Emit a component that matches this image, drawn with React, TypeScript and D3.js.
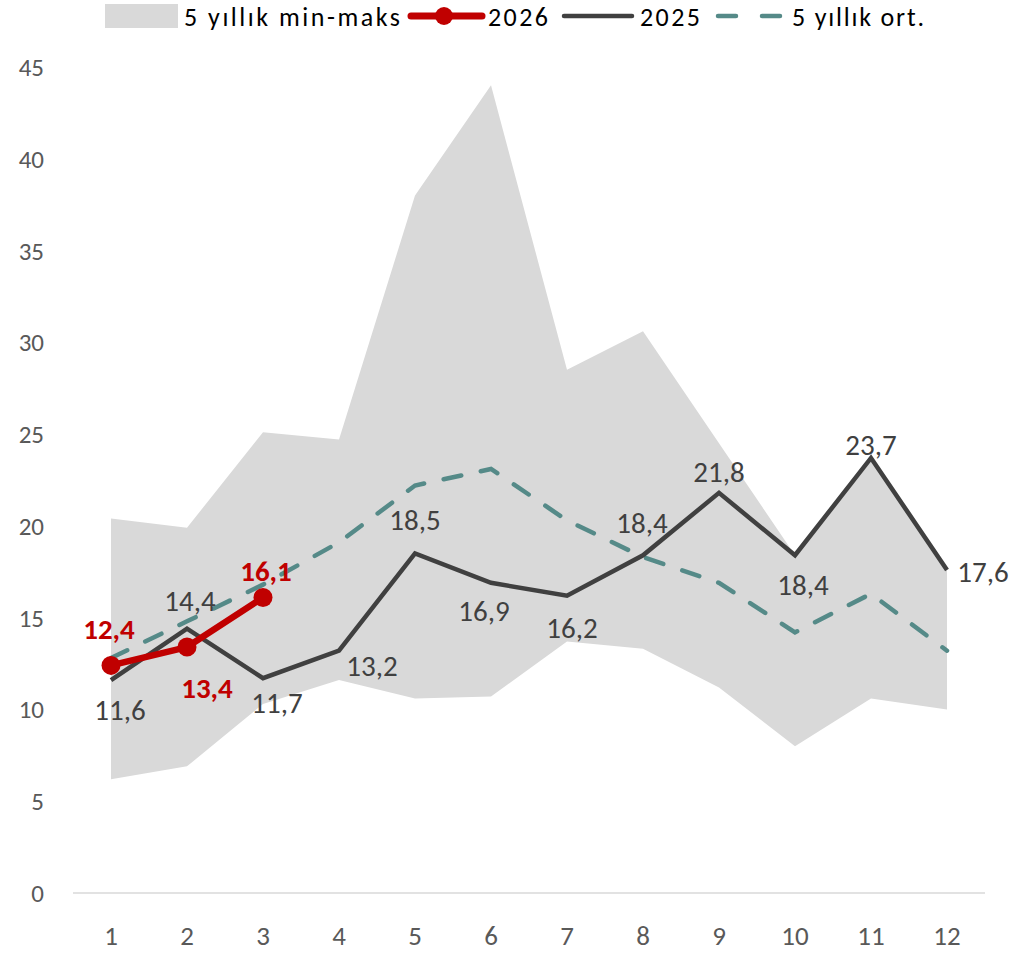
import React from "react";
import * as d3 from "d3";

const months = ["1", "2", "3", "4", "5", "6", "7", "8", "9", "10", "11", "12"];
const rangeMin = [6.2, 6.9, 10.3, 11.6, 10.6, 10.7, 13.7, 13.3, 11.2, 8.0, 10.6, 10.0];
const rangeMax = [20.4, 19.9, 25.1, 24.7, 38.0, 44.0, 28.5, 30.6, 24.5, 18.4, 23.7, 17.6];
const avg5 = [12.8, 14.8, 16.8, 19.1, 22.2, 23.1, 20.3, 18.3, 16.9, 14.2, 16.3, 13.2];
const y2025 = [11.6, 14.4, 11.7, 13.2, 18.5, 16.9, 16.2, 18.4, 21.8, 18.4, 23.7, 17.6];
const y2026 = [12.4, 13.4, 16.1];
const yTicks = [0, 5, 10, 15, 20, 25, 30, 35, 40, 45];

// label offsets (dx, dy of label centre from point)
const off2025: [number, number][] = [
  [9, 30], [3, -28], [14, 25], [33, 15], [0, -34], [-7, 28],
  [5, 32], [-1, -32], [0, -21], [8, 30], [0, -13], [36, 2],
];
const off2026: [number, number][] = [[-2, -37], [20, 41], [3, -27]];

const W = 1013;
const H = 956;
const RED = "#C00000";
const DARK = "#404040";
const TEAL = "#558A88";
const BAND = "#D9D9D9";
const labelFont = "Carlito, Lato, 'Open Sans', sans-serif";

const fmt = (v: number) => v.toFixed(1).replace(".", ",");

export default function App() {
  const x = d3.scalePoint<string>().domain(months).range([73, 985]).padding(0.5);
  const y = d3.scaleLinear().domain([0, 45]).range([893, 67]);

  const area = d3
    .area<number>()
    .x((_, i) => x(months[i])!)
    .y0((_, i) => y(rangeMin[i]))
    .y1((d) => y(d));

  const line = d3
    .line<number>()
    .x((_, i) => x(months[i])!)
    .y((d) => y(d));

  return (
    <svg width={W} height={H} style={{ position: "absolute", left: 0, top: 0, background: "#fff" }}>
      {/* legend */}
      <g fontFamily={labelFont} fontSize={26} fill="#000">
        <rect x={105} y={4} width={73} height={24} fill={BAND} />
        <text x={184} y={26} textLength={216}>5 yıllık min-maks</text>
        <line x1={411} x2={482} y1={16} y2={16} stroke={RED} strokeWidth={7} strokeLinecap="round" />
        <circle cx={444} cy={16} r={9} fill={RED} />
        <text x={488} y={26} textLength={60}>2026</text>
        <line x1={564} x2={632} y1={16} y2={16} stroke={DARK} strokeWidth={4.5} strokeLinecap="round" />
        <text x={640} y={26} textLength={60}>2025</text>
        <line x1={718} x2={782} y1={16} y2={16} stroke={TEAL} strokeWidth={4.5} strokeLinecap="round" strokeDasharray="18 26" />
        <text x={792} y={26} textLength={132}>5 yıllık ort.</text>
      </g>

      {/* y axis labels */}
      <g fontFamily={labelFont} fontSize={25} fill="#595959" textAnchor="end">
        {yTicks.map((t) => (
          <text key={t} x={44} y={y(t)} dy="0.36em">{t}</text>
        ))}
      </g>

      {/* band */}
      <path d={area(rangeMax) ?? ""} fill={BAND} />

      {/* x axis */}
      <line x1={73} x2={985} y1={y(0)} y2={y(0)} stroke={BAND} strokeWidth={1.5} />
      <g fontFamily={labelFont} fontSize={27} fill="#595959" textAnchor="middle">
        {months.map((m) => (
          <text key={m} x={x(m)} y={945}>{m}</text>
        ))}
      </g>

      {/* avg */}
      <path d={line(avg5) ?? ""} fill="none" stroke={TEAL} strokeWidth={4.5} strokeLinecap="round" strokeDasharray="18 20" />

      {/* 2025 */}
      <path d={line(y2025) ?? ""} fill="none" stroke={DARK} strokeWidth={4.5} strokeLinejoin="miter" />

      {/* 2026 */}
      <path d={line(y2026) ?? ""} fill="none" stroke={RED} strokeWidth={6.5} strokeLinejoin="round" />
      {y2026.map((v, i) => (
        <circle key={i} cx={x(months[i])} cy={y(v)} r={9.5} fill={RED} />
      ))}

      {/* labels */}
      <g fontFamily={labelFont} fontSize={29} fill={DARK} textAnchor="middle">
        {y2025.map((v, i) => (
          <text key={i} x={x(months[i])! + off2025[i][0]} y={y(v) + off2025[i][1]} dy="0.35em">
            {fmt(v)}
          </text>
        ))}
      </g>
      <g fontFamily={labelFont} fontSize={29} fontWeight="bold" fill={RED} textAnchor="middle">
        {y2026.map((v, i) => (
          <text key={i} x={x(months[i])! + off2026[i][0]} y={y(v) + off2026[i][1]} dy="0.35em">
            {fmt(v)}
          </text>
        ))}
      </g>
    </svg>
  );
}
